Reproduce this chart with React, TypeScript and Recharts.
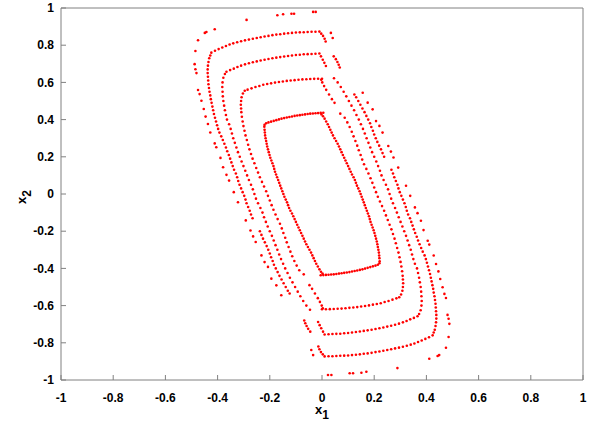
import { ScatterChart, Scatter, XAxis, YAxis } from 'recharts';

// values: x1 (horizontal) and x2 (vertical) of each orbit point
const xTicks = [-1, -0.8, -0.6, -0.4, -0.2, 0, 0.2, 0.4, 0.6, 0.8, 1];
const yTicks = [-1, -0.8, -0.6, -0.4, -0.2, 0, 0.2, 0.4, 0.6, 0.8, 1];

// innermost orbit
const orbit1Top = [[-0.22,0.372],[-0.214,0.38],[-0.205,0.385],[-0.195,0.389],[-0.185,0.393],[-0.175,0.397],[-0.165,0.401],[-0.155,0.405],[-0.145,0.408],[-0.135,0.411],[-0.125,0.414],[-0.115,0.417],[-0.105,0.42],[-0.095,0.422],[-0.085,0.424],[-0.075,0.426],[-0.065,0.428],[-0.055,0.43],[-0.045,0.432],[-0.035,0.433],[-0.025,0.434],[-0.015,0.435],[-0.005,0.436],[0.005,0.437]];
const orbit1Bottom = [[0.22,-0.372],[0.214,-0.38],[0.205,-0.385],[0.195,-0.389],[0.185,-0.393],[0.175,-0.397],[0.165,-0.401],[0.155,-0.405],[0.145,-0.408],[0.135,-0.411],[0.125,-0.414],[0.115,-0.417],[0.105,-0.42],[0.095,-0.422],[0.085,-0.424],[0.075,-0.426],[0.065,-0.428],[0.055,-0.43],[0.045,-0.432],[0.035,-0.433],[0.025,-0.434],[0.015,-0.435],[0.005,-0.436],[-0.005,-0.437]];
const orbit1Left = [[-0.221,0.362],[-0.22,0.345],[-0.219,0.331],[-0.218,0.315],[-0.216,0.3],[-0.214,0.285],[-0.212,0.27],[-0.21,0.255],[-0.207,0.24],[-0.204,0.225],[-0.201,0.21],[-0.198,0.195],[-0.194,0.18],[-0.19,0.165],[-0.186,0.15],[-0.183,0.135],[-0.18,0.12],[-0.176,0.105],[-0.172,0.09],[-0.168,0.075],[-0.164,0.06],[-0.16,0.045],[-0.156,0.03],[-0.152,0.015],[-0.148,0.0],[-0.144,-0.015],[-0.139,-0.03],[-0.134,-0.045],[-0.13,-0.06],[-0.126,-0.075],[-0.121,-0.09],[-0.115,-0.105],[-0.11,-0.12],[-0.105,-0.135],[-0.1,-0.15],[-0.095,-0.165],[-0.09,-0.18],[-0.085,-0.195],[-0.08,-0.21],[-0.075,-0.225],[-0.07,-0.24],[-0.065,-0.255],[-0.06,-0.27],[-0.054,-0.285],[-0.048,-0.3],[-0.042,-0.315],[-0.037,-0.33],[-0.032,-0.345],[-0.027,-0.36],[-0.022,-0.375],[-0.016,-0.39],[-0.01,-0.405],[-0.004,-0.418],[0.002,-0.428]];
const orbit1Right = [[0.221,-0.362],[0.22,-0.345],[0.219,-0.331],[0.218,-0.315],[0.216,-0.3],[0.214,-0.285],[0.212,-0.27],[0.21,-0.255],[0.207,-0.24],[0.204,-0.225],[0.201,-0.21],[0.198,-0.195],[0.194,-0.18],[0.19,-0.165],[0.186,-0.15],[0.183,-0.135],[0.18,-0.12],[0.176,-0.105],[0.172,-0.09],[0.168,-0.075],[0.164,-0.06],[0.16,-0.045],[0.156,-0.03],[0.152,-0.015],[0.148,0.0],[0.144,0.015],[0.139,0.03],[0.134,0.045],[0.13,0.06],[0.126,0.075],[0.121,0.09],[0.115,0.105],[0.11,0.12],[0.105,0.135],[0.1,0.15],[0.095,0.165],[0.09,0.18],[0.085,0.195],[0.08,0.21],[0.075,0.225],[0.07,0.24],[0.065,0.255],[0.06,0.27],[0.054,0.285],[0.048,0.3],[0.042,0.315],[0.037,0.33],[0.032,0.345],[0.027,0.36],[0.022,0.375],[0.016,0.39],[0.01,0.405],[0.004,0.418],[-0.002,0.428]];

// second orbit
const orbit2Top = [[-0.296,0.555],[-0.285,0.561],[-0.27,0.568],[-0.255,0.575],[-0.24,0.581],[-0.225,0.587],[-0.21,0.591],[-0.195,0.595],[-0.18,0.599],[-0.165,0.602],[-0.15,0.605],[-0.135,0.608],[-0.12,0.61],[-0.105,0.612],[-0.09,0.614],[-0.075,0.616],[-0.06,0.617],[-0.045,0.618],[-0.03,0.619],[-0.015,0.62],[0.0,0.62]];
const orbit2Bottom = [[0.296,-0.555],[0.285,-0.561],[0.27,-0.568],[0.255,-0.575],[0.24,-0.581],[0.225,-0.587],[0.21,-0.591],[0.195,-0.595],[0.18,-0.599],[0.165,-0.602],[0.15,-0.605],[0.135,-0.608],[0.12,-0.61],[0.105,-0.612],[0.09,-0.614],[0.075,-0.616],[0.06,-0.617],[0.045,-0.618],[0.03,-0.619],[0.015,-0.62],[0.0,-0.62]];
const orbit2Left = [[-0.303,0.54],[-0.308,0.52],[-0.31,0.5],[-0.311,0.48],[-0.31,0.46],[-0.309,0.44],[-0.307,0.415],[-0.304,0.39],[-0.301,0.365],[-0.297,0.34],[-0.293,0.315],[-0.288,0.29],[-0.283,0.265],[-0.278,0.24],[-0.272,0.215],[-0.266,0.19],[-0.259,0.165],[-0.252,0.14],[-0.245,0.115],[-0.238,0.09],[-0.23,0.065],[-0.222,0.04],[-0.214,0.015],[-0.207,-0.01],[-0.2,-0.035],[-0.193,-0.06],[-0.186,-0.085],[-0.178,-0.11],[-0.17,-0.135],[-0.161,-0.16],[-0.154,-0.185],[-0.148,-0.21],[-0.141,-0.235],[-0.135,-0.26],[-0.128,-0.285],[-0.121,-0.31],[-0.114,-0.335],[-0.106,-0.36],[-0.097,-0.385],[-0.087,-0.41],[-0.07,-0.432],[-0.048,-0.49],[-0.038,-0.51],[-0.027,-0.535],[-0.016,-0.56],[-0.008,-0.58],[-0.001,-0.6],[0.003,-0.614]];
const orbit2Right = [[0.303,-0.54],[0.308,-0.52],[0.31,-0.5],[0.311,-0.48],[0.31,-0.46],[0.309,-0.44],[0.307,-0.415],[0.304,-0.39],[0.301,-0.365],[0.297,-0.34],[0.293,-0.315],[0.288,-0.29],[0.283,-0.265],[0.278,-0.24],[0.272,-0.215],[0.266,-0.19],[0.259,-0.165],[0.252,-0.14],[0.245,-0.115],[0.238,-0.09],[0.23,-0.065],[0.222,-0.04],[0.214,-0.015],[0.207,0.01],[0.2,0.035],[0.193,0.06],[0.186,0.085],[0.178,0.11],[0.17,0.135],[0.161,0.16],[0.154,0.185],[0.148,0.21],[0.141,0.235],[0.135,0.26],[0.128,0.285],[0.121,0.31],[0.114,0.335],[0.106,0.36],[0.097,0.385],[0.087,0.41],[0.07,0.432],[0.048,0.49],[0.038,0.51],[0.027,0.535],[0.016,0.56],[0.008,0.58],[0.001,0.6],[-0.003,0.614]];

// third orbit
const orbit3Top = [[-0.366,0.657],[-0.352,0.666],[-0.338,0.674],[-0.324,0.683],[-0.31,0.69],[-0.295,0.697],[-0.28,0.703],[-0.265,0.708],[-0.25,0.713],[-0.235,0.718],[-0.22,0.722],[-0.205,0.726],[-0.19,0.73],[-0.175,0.733],[-0.16,0.736],[-0.145,0.739],[-0.13,0.742],[-0.115,0.745],[-0.1,0.747],[-0.085,0.749],[-0.07,0.751],[-0.055,0.752],[-0.04,0.753],[-0.025,0.754],[-0.01,0.755]];
const orbit3Bottom = [[0.366,-0.657],[0.352,-0.666],[0.338,-0.674],[0.324,-0.683],[0.31,-0.69],[0.295,-0.697],[0.28,-0.703],[0.265,-0.708],[0.25,-0.713],[0.235,-0.718],[0.22,-0.722],[0.205,-0.726],[0.19,-0.73],[0.175,-0.733],[0.16,-0.736],[0.145,-0.739],[0.13,-0.742],[0.115,-0.745],[0.1,-0.747],[0.085,-0.749],[0.07,-0.751],[0.055,-0.752],[0.04,-0.753],[0.025,-0.754],[0.01,-0.755]];
const orbit3Left = [[-0.372,0.645],[-0.378,0.625],[-0.381,0.6],[-0.382,0.575],[-0.381,0.55],[-0.38,0.525],[-0.378,0.5],[-0.375,0.475],[-0.372,0.45],[-0.368,0.425],[-0.364,0.4],[-0.356,0.375],[-0.35,0.35],[-0.345,0.325],[-0.34,0.3],[-0.334,0.275],[-0.328,0.25],[-0.322,0.225],[-0.315,0.2],[-0.308,0.175],[-0.301,0.15],[-0.294,0.125],[-0.287,0.1],[-0.28,0.075],[-0.272,0.05],[-0.265,0.025],[-0.259,0.0],[-0.253,-0.025],[-0.245,-0.05],[-0.236,-0.075],[-0.228,-0.1],[-0.222,-0.125],[-0.215,-0.15],[-0.208,-0.175],[-0.2,-0.2],[-0.192,-0.225],[-0.185,-0.25],[-0.178,-0.275],[-0.171,-0.3],[-0.164,-0.325],[-0.157,-0.35],[-0.149,-0.375],[-0.141,-0.4],[-0.132,-0.425],[-0.123,-0.45],[-0.113,-0.475],[-0.103,-0.5],[-0.093,-0.525],[-0.083,-0.55],[-0.072,-0.575],[-0.06,-0.6],[-0.046,-0.622],[-0.015,-0.688],[-0.009,-0.705],[-0.003,-0.722],[0.004,-0.74]];
const orbit3Right = [[0.372,-0.645],[0.378,-0.625],[0.381,-0.6],[0.382,-0.575],[0.381,-0.55],[0.38,-0.525],[0.378,-0.5],[0.375,-0.475],[0.372,-0.45],[0.368,-0.425],[0.364,-0.4],[0.356,-0.375],[0.35,-0.35],[0.345,-0.325],[0.34,-0.3],[0.334,-0.275],[0.328,-0.25],[0.322,-0.225],[0.315,-0.2],[0.308,-0.175],[0.301,-0.15],[0.294,-0.125],[0.287,-0.1],[0.28,-0.075],[0.272,-0.05],[0.265,-0.025],[0.259,0.0],[0.253,0.025],[0.245,0.05],[0.236,0.075],[0.228,0.1],[0.222,0.125],[0.215,0.15],[0.208,0.175],[0.2,0.2],[0.192,0.225],[0.185,0.25],[0.178,0.275],[0.171,0.3],[0.164,0.325],[0.157,0.35],[0.149,0.375],[0.141,0.4],[0.132,0.425],[0.123,0.45],[0.113,0.475],[0.103,0.5],[0.093,0.525],[0.083,0.55],[0.072,0.575],[0.06,0.6],[0.046,0.622],[0.015,0.688],[0.009,0.705],[0.003,0.722],[-0.004,0.74]];

// fourth orbit
const orbit4Top = [[-0.424,0.76],[-0.41,0.77],[-0.396,0.779],[-0.382,0.788],[-0.368,0.796],[-0.354,0.804],[-0.34,0.81],[-0.325,0.816],[-0.31,0.821],[-0.295,0.826],[-0.28,0.83],[-0.265,0.835],[-0.25,0.839],[-0.235,0.843],[-0.22,0.847],[-0.205,0.85],[-0.19,0.854],[-0.175,0.857],[-0.16,0.859],[-0.145,0.862],[-0.13,0.864],[-0.115,0.866],[-0.1,0.868],[-0.085,0.869],[-0.07,0.87],[-0.055,0.871],[-0.04,0.872],[-0.025,0.872],[-0.01,0.873]];
const orbit4Bottom = [[0.424,-0.76],[0.41,-0.77],[0.396,-0.779],[0.382,-0.788],[0.368,-0.796],[0.354,-0.804],[0.34,-0.81],[0.325,-0.816],[0.31,-0.821],[0.295,-0.826],[0.28,-0.83],[0.265,-0.835],[0.25,-0.839],[0.235,-0.843],[0.22,-0.847],[0.205,-0.85],[0.19,-0.854],[0.175,-0.857],[0.16,-0.859],[0.145,-0.862],[0.13,-0.864],[0.115,-0.866],[0.1,-0.868],[0.085,-0.869],[0.07,-0.87],[0.055,-0.871],[0.04,-0.872],[0.025,-0.872],[0.01,-0.873]];
const orbit4Left = [[-0.428,0.745],[-0.432,0.73],[-0.435,0.71],[-0.437,0.69],[-0.438,0.67],[-0.438,0.65],[-0.437,0.63],[-0.436,0.61],[-0.435,0.59],[-0.433,0.57],[-0.431,0.55],[-0.428,0.53],[-0.426,0.51],[-0.423,0.49],[-0.42,0.47],[-0.417,0.45],[-0.414,0.43],[-0.41,0.41],[-0.406,0.39],[-0.402,0.37],[-0.398,0.35],[-0.393,0.33],[-0.386,0.31],[-0.38,0.29],[-0.374,0.27],[-0.368,0.25],[-0.363,0.23],[-0.357,0.21],[-0.352,0.19],[-0.347,0.17],[-0.342,0.15],[-0.337,0.13],[-0.33,0.11],[-0.325,0.09],[-0.321,0.07],[-0.316,0.05],[-0.31,0.03],[-0.304,0.01],[-0.298,-0.01],[-0.293,-0.03],[-0.289,-0.05],[-0.283,-0.07],[-0.277,-0.09],[-0.272,-0.11],[-0.266,-0.13],[-0.238,-0.2],[-0.232,-0.22],[-0.226,-0.24],[-0.219,-0.26],[-0.212,-0.28],[-0.206,-0.3],[-0.2,-0.32],[-0.195,-0.34],[-0.189,-0.36],[-0.184,-0.38],[-0.177,-0.4],[-0.17,-0.42],[-0.163,-0.44],[-0.155,-0.46],[-0.147,-0.48],[-0.139,-0.5],[-0.131,-0.52],[-0.124,-0.535],[-0.068,-0.68],[-0.064,-0.695],[-0.059,-0.71],[-0.053,-0.725],[-0.045,-0.74],[-0.014,-0.82],[-0.01,-0.835],[-0.004,-0.85],[0.003,-0.862]];
const orbit4Right = [[0.428,-0.745],[0.432,-0.73],[0.435,-0.71],[0.437,-0.69],[0.438,-0.67],[0.438,-0.65],[0.437,-0.63],[0.436,-0.61],[0.435,-0.59],[0.433,-0.57],[0.431,-0.55],[0.428,-0.53],[0.426,-0.51],[0.423,-0.49],[0.42,-0.47],[0.417,-0.45],[0.414,-0.43],[0.41,-0.41],[0.406,-0.39],[0.402,-0.37],[0.398,-0.35],[0.393,-0.33],[0.386,-0.31],[0.38,-0.29],[0.374,-0.27],[0.368,-0.25],[0.363,-0.23],[0.357,-0.21],[0.352,-0.19],[0.347,-0.17],[0.342,-0.15],[0.337,-0.13],[0.33,-0.11],[0.325,-0.09],[0.321,-0.07],[0.316,-0.05],[0.31,-0.03],[0.304,-0.01],[0.298,0.01],[0.293,0.03],[0.289,0.05],[0.283,0.07],[0.277,0.09],[0.272,0.11],[0.266,0.13],[0.238,0.2],[0.232,0.22],[0.226,0.24],[0.219,0.26],[0.212,0.28],[0.206,0.3],[0.2,0.32],[0.195,0.34],[0.189,0.36],[0.184,0.38],[0.177,0.4],[0.17,0.42],[0.163,0.44],[0.155,0.46],[0.147,0.48],[0.139,0.5],[0.131,0.52],[0.124,0.535],[0.068,0.68],[0.064,0.695],[0.059,0.71],[0.053,0.725],[0.045,0.74],[0.014,0.82],[0.01,0.835],[0.004,0.85],[-0.003,0.862]];

// outermost, sparse orbit
const orbit5Left = [[-0.289,0.936],[-0.411,0.886],[-0.443,0.871],[-0.449,0.866],[-0.475,0.827],[-0.485,0.769],[-0.488,0.698],[-0.485,0.671],[-0.481,0.65],[-0.475,0.559],[-0.469,0.537],[-0.462,0.501],[-0.453,0.457],[-0.446,0.416],[-0.437,0.376],[-0.428,0.331],[-0.411,0.272],[-0.405,0.251],[-0.389,0.194],[-0.379,0.144],[-0.366,0.103],[-0.356,0.072],[-0.338,0.01],[-0.322,-0.044],[-0.292,-0.142],[-0.274,-0.196],[-0.264,-0.228],[-0.254,-0.258],[-0.232,-0.33],[-0.22,-0.366],[-0.207,-0.392],[-0.194,-0.455],[-0.175,-0.491],[-0.156,-0.544],[-0.041,-0.839],[-0.034,-0.866]];
const orbit5Right = [[0.289,-0.936],[0.411,-0.886],[0.443,-0.871],[0.449,-0.866],[0.475,-0.827],[0.485,-0.769],[0.488,-0.698],[0.485,-0.671],[0.481,-0.65],[0.475,-0.559],[0.469,-0.537],[0.462,-0.501],[0.453,-0.457],[0.446,-0.416],[0.437,-0.376],[0.428,-0.331],[0.411,-0.272],[0.405,-0.251],[0.389,-0.194],[0.379,-0.144],[0.366,-0.103],[0.356,-0.072],[0.338,-0.01],[0.322,0.044],[0.292,0.142],[0.274,0.196],[0.264,0.228],[0.254,0.258],[0.232,0.33],[0.22,0.366],[0.207,0.392],[0.194,0.455],[0.175,0.491],[0.156,0.544],[0.041,0.839],[0.034,0.866]];
const orbit5Top = [[-0.171,0.961],[-0.149,0.966],[-0.117,0.969],[-0.107,0.969],[-0.034,0.979],[-0.024,0.979]];
const orbit5Bottom = [[0.023,-0.973],[0.036,-0.973],[0.106,-0.964],[0.119,-0.964],[0.151,-0.961],[0.17,-0.956]];

const toPoints = (...parts: number[][][]) =>
  parts.flat().map(([x, y]) => ({ x, y }));

const orbits = [
  toPoints(orbit1Top, orbit1Right, orbit1Bottom, orbit1Left),
  toPoints(orbit2Top, orbit2Right, orbit2Bottom, orbit2Left),
  toPoints(orbit3Top, orbit3Right, orbit3Bottom, orbit3Left),
  toPoints(orbit4Top, orbit4Right, orbit4Bottom, orbit4Left),
  toPoints(orbit5Top, orbit5Right, orbit5Bottom, orbit5Left),
];

const FONT = '"Liberation Sans", Arial, Helvetica, sans-serif';
const AXIS = '#808080';
const tickStyle = { fill: '#000', fontSize: 12, fontWeight: 700, fontFamily: FONT };

const Dot = (props: any) => (
  <circle cx={props.cx} cy={props.cy} r={1.3} fill="#ff0000" />
);

export default function App() {
  return (
    <div
      style={{
        position: 'absolute',
        left: 0,
        top: 0,
        width: 600,
        height: 423,
        background: '#fff',
        fontFamily: FONT,
        fontWeight: 700,
      }}
    >
      <ScatterChart width={600} height={423} margin={{ top: 0, right: 0, bottom: 0, left: 0 }}>
        <XAxis
          xAxisId="b"
          type="number"
          dataKey="x"
          domain={[-1, 1]}
          ticks={xTicks}
          interval={0}
          allowDataOverflow
          orientation="bottom"
          height={43}
          tickSize={-5}
          tickMargin={18}
          stroke={AXIS}
          tick={tickStyle}
        />
        <XAxis
          xAxisId="t"
          type="number"
          dataKey="x"
          domain={[-1, 1]}
          ticks={xTicks}
          interval={0}
          allowDataOverflow
          orientation="top"
          height={8}
          tickSize={-5}
          tick={false}
          stroke={AXIS}
        />
        <YAxis
          yAxisId="l"
          type="number"
          dataKey="y"
          domain={[-1, 1]}
          ticks={yTicks}
          interval={0}
          allowDataOverflow
          width={61}
          tickSize={-5}
          tickMargin={12}
          stroke={AXIS}
          tick={tickStyle}
        />
        <YAxis
          yAxisId="r"
          type="number"
          dataKey="y"
          domain={[-1, 1]}
          ticks={yTicks}
          interval={0}
          allowDataOverflow
          orientation="right"
          width={17}
          tickSize={-5}
          tick={false}
          stroke={AXIS}
        />
        {orbits.map((pts, i) => (
          <Scatter
            key={i}
            xAxisId="b"
            yAxisId="l"
            data={pts}
            fill="#ff0000"
            shape={Dot}
            isAnimationActive={false}
          />
        ))}
        <Scatter
          xAxisId="t"
          yAxisId="r"
          data={orbits[4]}
          shape={() => <g />}
          isAnimationActive={false}
        />
      </ScatterChart>
      <svg
        width={600}
        height={423}
        style={{ position: 'absolute', left: 0, top: 0, pointerEvents: 'none' }}
        fontFamily={FONT}
        fontWeight={700}
      >
        <text x={315} y={414} fontSize={13} fill="#000">
          x<tspan dy={5} fontSize={12}>1</tspan>
        </text>
        <text transform="translate(26,197) rotate(-90)" textAnchor="middle" fontSize={13} fill="#000">
          x<tspan dy={5} fontSize={12}>2</tspan>
        </text>
      </svg>
    </div>
  );
}
